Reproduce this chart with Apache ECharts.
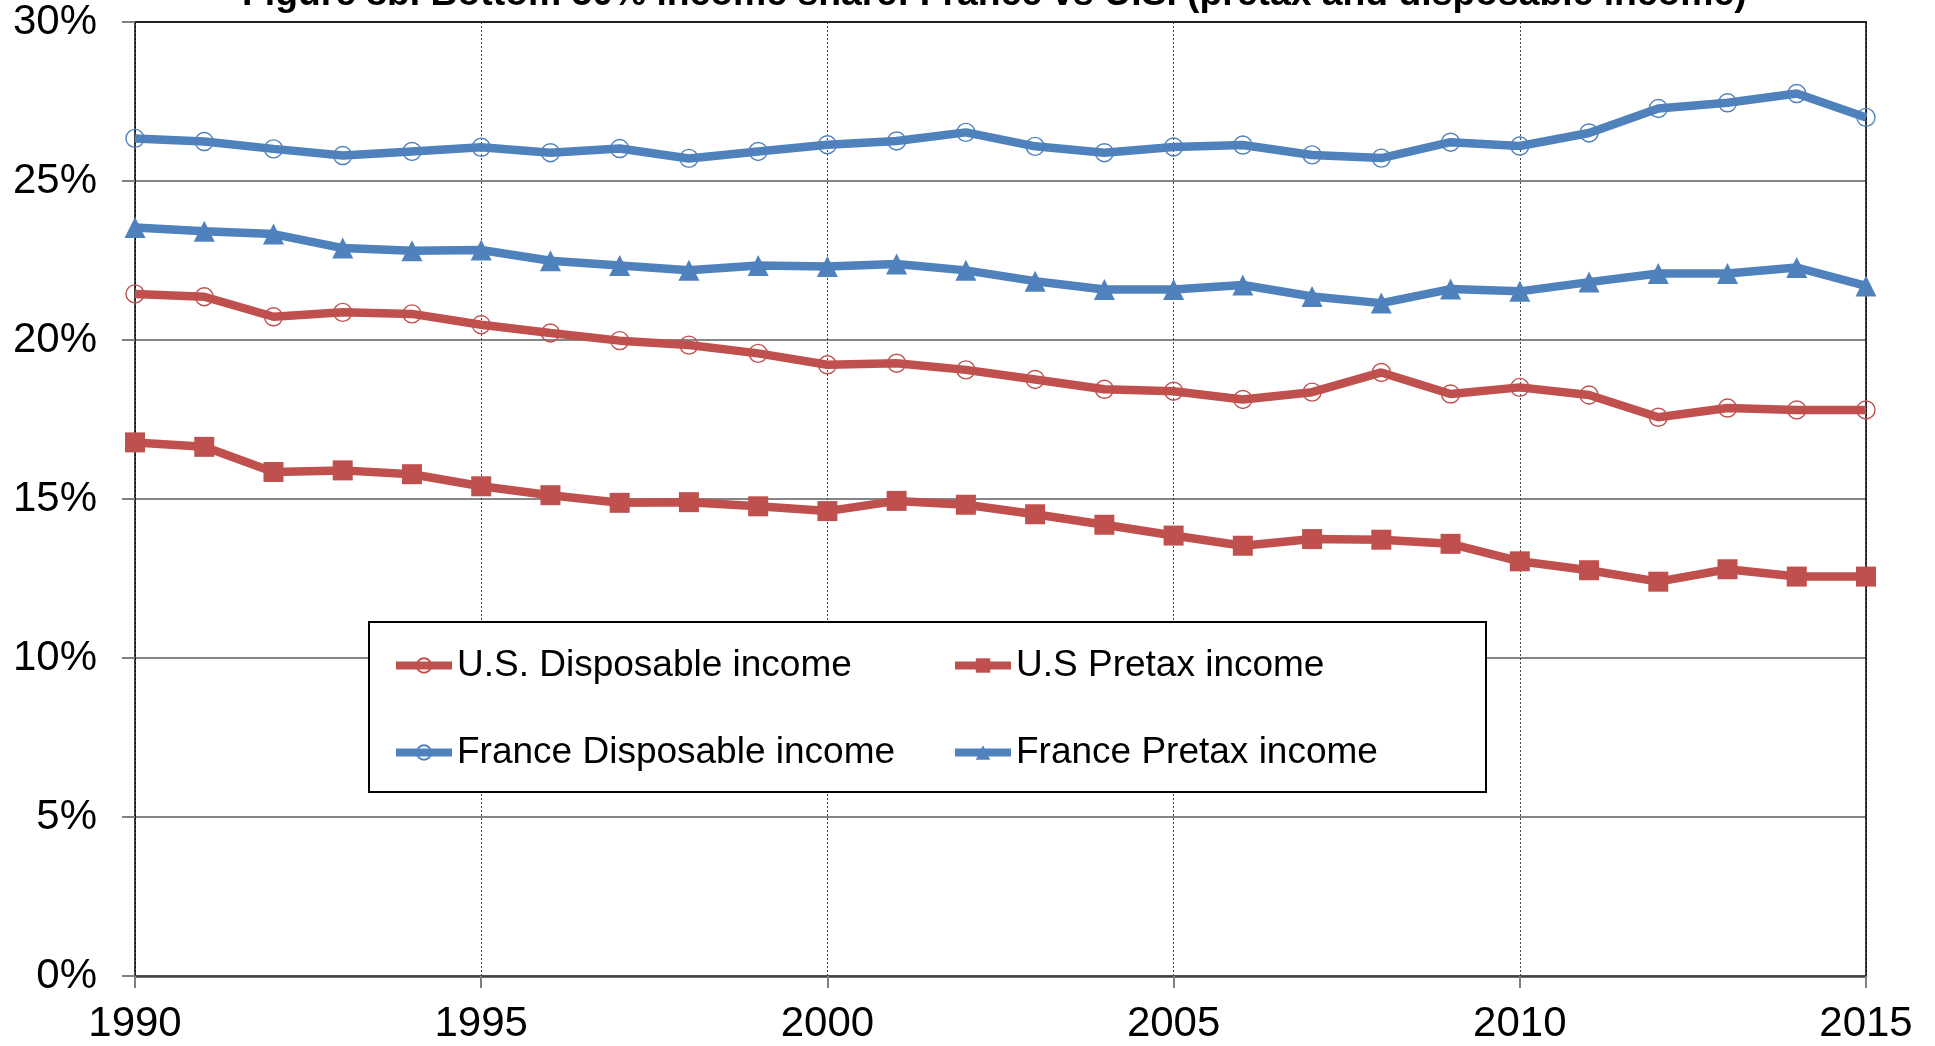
<!DOCTYPE html>
<html>
<head>
<meta charset="utf-8">
<script src="https://cdn.jsdelivr.net/npm/echarts@6/dist/echarts.min.js"></script>
<style>
html,body{margin:0;padding:0;background:#fff;}
#chart{width:1935px;height:1046px;}
</style>
</head>
<body>
<div id="chart"></div>
<script>
var titleText = 'Figure 8b. Bottom 50% income share: France vs U.S. (pretax and disposable income)';
var years = [1990,1991,1992,1993,1994,1995,1996,1997,1998,1999,2000,2001,2002,2003,2004,2005,2006,2007,2008,2009,2010,2011,2012,2013,2014,2015];
var seriesNames = ['U.S. Disposable income','U.S Pretax income','France Disposable income','France Pretax income'];
var usDisposable = [21.45,21.36,20.73,20.87,20.82,20.48,20.22,19.98,19.84,19.58,19.22,19.27,19.06,18.76,18.45,18.39,18.13,18.36,18.98,18.30,18.51,18.27,17.57,17.86,17.80,17.80];
var usPretax = [16.78,16.64,15.85,15.90,15.78,15.40,15.12,14.88,14.90,14.77,14.62,14.94,14.82,14.52,14.19,13.85,13.53,13.74,13.72,13.59,13.04,12.76,12.40,12.79,12.56,12.56];
var frDisposable = [26.34,26.24,26.01,25.80,25.93,26.06,25.89,26.02,25.71,25.93,26.14,26.26,26.53,26.09,25.89,26.07,26.13,25.82,25.72,26.22,26.10,26.51,27.28,27.46,27.75,27.00];
var frPretax = [23.54,23.42,23.33,22.89,22.81,22.83,22.49,22.34,22.19,22.34,22.31,22.39,22.19,21.85,21.59,21.59,21.73,21.37,21.16,21.60,21.53,21.82,22.09,22.09,22.28,21.70];

var RED = '#C0504D', BLUE = '#4F81BD';
var FONT = '"Liberation Sans", Arial, sans-serif';

function pairs(vals){ return years.map(function(y,i){ return [y, vals[i]]; }); }

function mkSeries(name, vals, color, symbol, size, hollow){
  return {
    name: name, type: 'line', data: pairs(vals),
    xAxisIndex: 0, yAxisIndex: 0,
    symbol: symbol, symbolSize: size,
    lineStyle: {color: color, width: 8.5},
    itemStyle: hollow ? {color: 'rgba(255,255,255,0)', borderColor: color, borderWidth: 1.4}
                      : {color: color, borderWidth: 0},
    emphasis: {disabled: true},
    z: 2
  };
}

var legendCommon = {
  orient: 'vertical', top: 647, padding: 0, itemGap: 50,
  itemWidth: 56, itemHeight: 18,
  lineStyle: {width: 8},
  textStyle: {fontFamily: FONT, fontSize: 37, color: '#000'},
  selectedMode: false
};

var chart = echarts.init(document.getElementById('chart'));
chart.setOption({
  animation: false,
  backgroundColor: '#fff',
  title: {
    text: titleText, left: 242, top: -24, padding: 0,
    textStyle: {fontFamily: FONT, fontSize: 37.3, fontWeight: 'bold', color: '#000'}
  },
  grid: {left: 135, right: 69, top: 22, bottom: 70, containLabel: false},
  legend: [
    Object.assign({}, legendCommon, {data: [seriesNames[0], seriesNames[2]], left: 392}),
    Object.assign({}, legendCommon, {data: [seriesNames[1], seriesNames[3]], left: 951})
  ],
  graphic: [{
    type: 'rect', z: 3,
    shape: {x: 369, y: 622, width: 1117, height: 170},
    style: {fill: '#fff', stroke: '#000', lineWidth: 2}
  }],
  xAxis: [
    {
      type: 'value', min: 1990, max: 2015, interval: 5,
      axisLine: {show: true, onZero: false, lineStyle: {color: '#404040', width: 2.5}},
      axisTick: {show: true, length: 12, lineStyle: {color: '#808080', width: 2}},
      axisLabel: {fontFamily: FONT, fontSize: 42, color: '#000', margin: 27,
                  formatter: function(v){ return String(v); }},
      splitLine: {show: true, lineStyle: {color: '#404040', width: 1, type: [2, 2]}}
    },
    {
      type: 'value', position: 'top', min: 1990, max: 2015,
      axisLine: {show: true, onZero: false, lineStyle: {color: '#202020', width: 2}},
      axisTick: {show: false}, axisLabel: {show: false}, splitLine: {show: false}
    }
  ],
  yAxis: [
    {
      type: 'value', min: 0, max: 30, interval: 5,
      axisLine: {show: true, onZero: false, lineStyle: {color: '#000', width: 1.5}},
      axisTick: {show: true, length: 13, lineStyle: {color: '#808080', width: 2}},
      axisLabel: {fontFamily: FONT, fontSize: 42, color: '#000', margin: 38, formatter: '{value}%'},
      splitLine: {show: true, lineStyle: {color: '#868686', width: 2}}
    },
    {
      type: 'value', position: 'right', min: 0, max: 30,
      axisLine: {show: true, onZero: false, lineStyle: {color: '#000', width: 1.5}},
      axisTick: {show: false}, axisLabel: {show: false}, splitLine: {show: false}
    }
  ],
  series: [
    mkSeries(seriesNames[0], usDisposable, RED, 'circle', 18, true),
    mkSeries(seriesNames[1], usPretax, RED, 'rect', 20, false),
    mkSeries(seriesNames[2], frDisposable, BLUE, 'circle', 18, true),
    mkSeries(seriesNames[3], frPretax, BLUE, 'triangle', 21, false)
  ]
});
</script>
</body>
</html>
